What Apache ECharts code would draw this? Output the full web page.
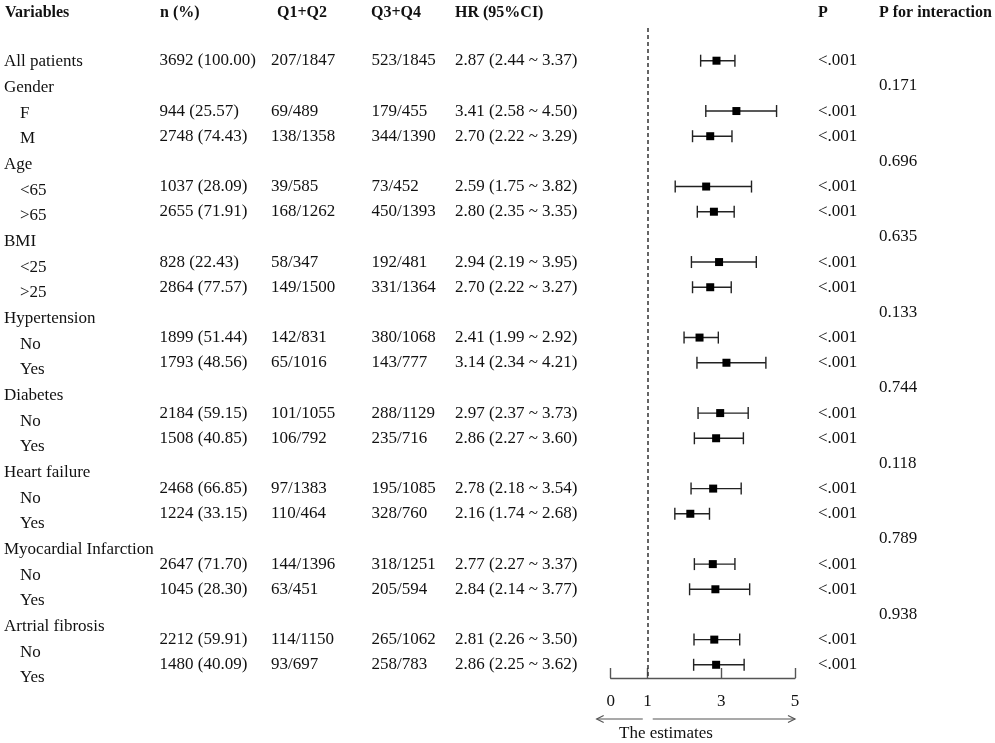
<!DOCTYPE html>
<html>
<head>
<meta charset="utf-8">
<script src="https://cdn.jsdelivr.net/npm/echarts@6/dist/echarts.min.js"></script>
<style>
  html, body { margin: 0; padding: 0; background: #fff; }
  #chart { width: 995px; height: 743px; }
</style>
</head>
<body>
<div id="chart"></div>
<script>
const rowLabels = ['All patients', 'Gender', 'F', 'M', 'Age', '<65', '>65', 'BMI', '<25', '>25',
    'Hypertension', 'No', 'Yes', 'Diabetes', 'No', 'Yes', 'Heart failure', 'No', 'Yes',
    'Myocardial Infarction', 'No', 'Yes', 'Artrial fibrosis', 'No', 'Yes'];
const groupRows = [1, 4, 7, 10, 13, 16, 19, 22];

const nPercent = ['3692 (100.00)', '', '944 (25.57)', '2748 (74.43)', '', '1037 (28.09)', '2655 (71.91)',
    '', '828 (22.43)', '2864 (77.57)', '', '1899 (51.44)', '1793 (48.56)', '', '2184 (59.15)', '1508 (40.85)',
    '', '2468 (66.85)', '1224 (33.15)', '', '2647 (71.70)', '1045 (28.30)', '', '2212 (59.91)', '1480 (40.09)'];
const q12 = ['207/1847', '', '69/489', '138/1358', '', '39/585', '168/1262', '', '58/347', '149/1500',
    '', '142/831', '65/1016', '', '101/1055', '106/792', '', '97/1383', '110/464', '', '144/1396', '63/451',
    '', '114/1150', '93/697'];
const q34 = ['523/1845', '', '179/455', '344/1390', '', '73/452', '450/1393', '', '192/481', '331/1364',
    '', '380/1068', '143/777', '', '288/1129', '235/716', '', '195/1085', '328/760', '', '318/1251', '205/594',
    '', '265/1062', '258/783'];
const hr = [2.87, null, 3.41, 2.70, null, 2.59, 2.80, null, 2.94, 2.70, null, 2.41, 3.14, null, 2.97, 2.86,
    null, 2.78, 2.16, null, 2.77, 2.84, null, 2.81, 2.86];
const hrLower = [2.44, null, 2.58, 2.22, null, 1.75, 2.35, null, 2.19, 2.22, null, 1.99, 2.34, null, 2.37, 2.27,
    null, 2.18, 1.74, null, 2.27, 2.14, null, 2.26, 2.25];
const hrUpper = [3.37, null, 4.50, 3.29, null, 3.82, 3.35, null, 3.95, 3.27, null, 2.92, 4.21, null, 3.73, 3.60,
    null, 3.54, 2.68, null, 3.37, 3.77, null, 3.50, 3.62];
const pValue = ['<.001', '', '<.001', '<.001', '', '<.001', '<.001', '', '<.001', '<.001', '', '<.001', '<.001',
    '', '<.001', '<.001', '', '<.001', '<.001', '', '<.001', '<.001', '', '<.001', '<.001'];
const pInteraction = ['', '0.171', '', '', '0.696', '', '', '0.635', '', '', '0.133', '', '', '0.744', '', '',
    '0.118', '', '', '0.789', '', '', '0.938', '', ''];
const headers = ['Variables', 'n (%)', 'Q1+Q2', 'Q3+Q4', 'HR (95%CI)', 'P', 'P for interaction'];
const xTicks = [0, 1, 3, 5];

const FONT = '"Liberation Serif", "Times New Roman", serif';
const TEXT_COLOR = '#111';

const hrText = hr.map((v, i) => v == null ? '' :
    `${v.toFixed(2)} (${hrLower[i].toFixed(2)} ~ ${hrUpper[i].toFixed(2)})`);

// one text column drawn on a row axis
function textColumn(texts, x, yAxisIndex) {
    return {
        type: 'custom',
        yAxisIndex: yAxisIndex,
        silent: true,
        clip: false,
        encode: {x: 0, y: 1},
        data: texts.map((t, i) => [0, i]),
        renderItem: (params, api) => {
            const t = texts[params.dataIndex];
            if (!t) return null;
            const pt = api.coord([0, api.value(1)]);
            return {
                type: 'text',
                style: {
                    text: t,
                    x: typeof x === 'function' ? x(params.dataIndex) : x,
                    y: pt[1],
                    align: 'left',
                    verticalAlign: 'middle',
                    font: '17px ' + FONT,
                    fill: TEXT_COLOR
                }
            };
        }
    };
}

const ciData = [];
const pointData = [];
hr.forEach((v, i) => {
    if (v == null) return;
    ciData.push([hrLower[i], hrUpper[i], i]);
    pointData.push([v, i]);
});

const headerX = [5, 160, 277, 371, 455, 818, 879];

const chart = echarts.init(document.getElementById('chart'));

const option = {
    animation: false,
    backgroundColor: '#fff',
    grid: {left: 610.7, width: 184.3, top: 28, height: 650, containLabel: false},
    xAxis: {
        type: 'value',
        min: 0,
        max: 5,
        axisLine: {show: true, onZero: false, lineStyle: {color: '#555', width: 1.4}},
        axisTick: {show: true, inside: true, length: 10, customValues: xTicks,
            lineStyle: {color: '#555', width: 1.4}},
        axisLabel: {customValues: xTicks, fontFamily: FONT, fontSize: 17, color: TEXT_COLOR, margin: 15},
        splitLine: {show: false}
    },
    yAxis: [
        {type: 'value', inverse: true, min: -1.299, max: 24.525, show: false},
        {type: 'value', inverse: true, min: -1.312, max: 24.0, show: false}
    ],
    series: [
        textColumn(rowLabels, i => (i === 0 || groupRows.includes(i)) ? 4 : 20, 1),
        textColumn(nPercent, 159.5, 0),
        textColumn(q12, 271, 0),
        textColumn(q34, 371.5, 0),
        textColumn(hrText, 455, 0),
        textColumn(pValue, 818, 0),
        textColumn(pInteraction, 879, 0),
        {
            type: 'custom',
            silent: true,
            encode: {x: [0, 1], y: 2},
            data: ciData,
            renderItem: (params, api) => {
                const lo = api.coord([api.value(0), api.value(2)]);
                const hi = api.coord([api.value(1), api.value(2)]);
                const h = 6;
                const style = {stroke: '#222', lineWidth: 1.4};
                return {
                    type: 'group',
                    children: [
                        {type: 'line', shape: {x1: lo[0], y1: lo[1], x2: hi[0], y2: hi[1]}, style},
                        {type: 'line', shape: {x1: lo[0], y1: lo[1] - h, x2: lo[0], y2: lo[1] + h}, style},
                        {type: 'line', shape: {x1: hi[0], y1: hi[1] - h, x2: hi[0], y2: hi[1] + h}, style}
                    ]
                };
            }
        },
        {
            type: 'scatter',
            silent: true,
            symbol: 'rect',
            symbolSize: 8,
            itemStyle: {color: '#000', opacity: 1},
            data: pointData,
            markLine: {
                silent: true,
                symbol: 'none',
                label: {show: false},
                lineStyle: {type: [4, 3], color: '#333', width: 1.5},
                data: [{xAxis: 1}]
            }
        }
    ],
    graphic: headers.map((h, i) => ({
        type: 'text',
        left: headerX[i],
        top: 5,
        style: {text: h, font: 'bold 16px ' + FONT, fill: TEXT_COLOR}
    }))
};

chart.setOption(option);

// arrows and caption under the axis
const px = v => chart.convertToPixel({xAxisIndex: 0}, v);
const arrowY = 719;
const arrowStyle = {stroke: '#555', lineWidth: 1.2, fill: null};
function arrow(fromV, toV) {
    const a = px(fromV), b = px(toV);
    const dir = b > a ? -1 : 1;
    return [
        {type: 'line', shape: {x1: a, y1: arrowY, x2: b, y2: arrowY}, style: arrowStyle},
        {type: 'polyline', shape: {points: [[b + dir * 7, arrowY - 3.5], [b, arrowY], [b + dir * 7, arrowY + 3.5]]},
            style: arrowStyle}
    ];
}
const extra = [].concat(arrow(0.87, -0.38), arrow(1.14, 5), [{
    type: 'text',
    x: px(1.5),
    y: 734,
    style: {text: 'The estimates', font: '17px ' + FONT, fill: TEXT_COLOR, align: 'center', verticalAlign: 'middle'}
}]);
chart.setOption({graphic: option.graphic.concat(extra)});
</script>
</body>
</html>
